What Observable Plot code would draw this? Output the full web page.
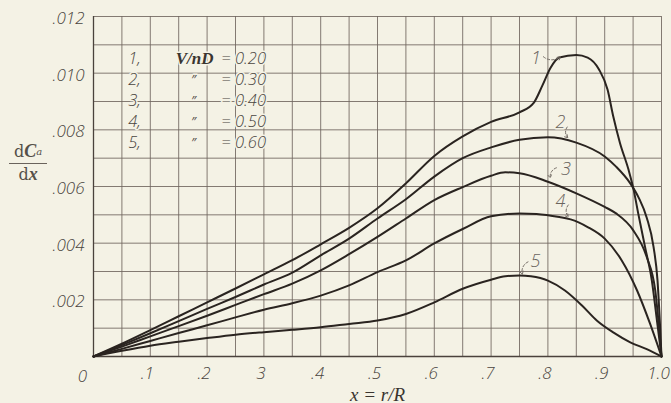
<!DOCTYPE html>
<html>
<head>
<meta charset="utf-8">
<script src="https://cdn.jsdelivr.net/npm/d3@7"></script>
<script src="https://cdn.jsdelivr.net/npm/@observablehq/plot@0.6"></script>
<style>
  html, body { margin: 0; padding: 0; background: #f4f2e5; }
  #wrap { position: relative; width: 671px; height: 403px; background: #f4f2e5; overflow: hidden; }
  #wrap svg { position: absolute; left: 0; top: 0; }
  .ylab { position: absolute; left: 9px; top: 141px; width: 38px; color: #555049; font-family: "DejaVu Serif", serif; text-align: center; }
  .ylab .num { font-size: 16px; line-height: 20px; border-bottom: 1.3px solid #6a635c; padding-bottom: 1px; white-space: nowrap; }
  .ylab .num b { font-style: italic; font-family: "Liberation Serif", serif; font-size: 18px; }
  .ylab .num sub { font-size: 10px; vertical-align: 2px; font-style: italic; }
  .ylab .den { font-size: 16px; line-height: 20px; white-space: nowrap; }
  .ylab .den i { font-family: "Liberation Serif", serif; font-weight: bold; font-size: 18px; }
</style>
</head>
<body>
<div id="wrap">
  <div class="ylab"><div class="num">d<b>C</b><sub>a</sub></div><div class="den">d<i>x</i></div></div>
</div>
<script>
// ---- data ----
const x1 = [0, .05, .1, .15, .2, .25, .3, .35, .4, .45, .5, .55, .6, .65, .7, .75, .775, .79, .805, .82, .85, .87, .89, .905, .915, .927, .942, .951, .959, .971, .983, .992, 1];
const y1 = [0, .00045, .00093, .00142, .00191, .0024, .0029, .0034, .00396, .00454, .00523, .00611, .00708, .00777, .00828, .00862, .00895, .00955, .0102, .01055, .01064, .01055, .01013, .00942, .00848, .00753, .00659, .00588, .00505, .00387, .00268, .00127, 0];

const x2 = [0, .05, .1, .15, .2, .25, .3, .35, .4, .45, .5, .55, .6, .65, .7, .75, .8, .85, .9, .92, .945, .96, .974, .986, .993, .997, 1];
const y2 = [0, .0004, .00082, .00125, .00168, .0021, .00254, .00296, .00357, .00416, .00487, .00555, .00635, .007, .00738, .00765, .00774, .00755, .00706, .0067, .00611, .0056, .0049, .00387, .00268, .00127, 0];

const x3 = [0, .05, .1, .15, .2, .25, .3, .35, .4, .45, .5, .55, .6, .65, .7, .725, .75, .8, .85, .9, .92, .95, .974, .989, 1];
const y3 = [0, .00035, .00071, .00107, .00144, .00182, .0022, .00257, .00304, .00361, .00422, .00487, .00552, .00598, .00638, .0065, .00647, .00617, .00576, .00528, .00505, .00446, .00351, .00233, 0];

const x4 = [0, .05, .1, .15, .2, .25, .3, .35, .4, .45, .5, .55, .6, .65, .7, .75, .78, .82, .84, .87, .9, .93, .957, .98, 1];
const y4 = [0, .00027, .00055, .00083, .0011, .00138, .00165, .00188, .00215, .00251, .00298, .00339, .00399, .0045, .00495, .00505, .00503, .00492, .00484, .00457, .00416, .00339, .00233, .00115, 0];

const x5 = [0, .05, .1, .15, .2, .25, .3, .35, .4, .45, .5, .55, .6, .65, .7, .725, .75, .77, .8, .83, .86, .886, .915, .945, .974, 1];
const y5 = [0, .0002, .00038, .00052, .00065, .00077, .00086, .00094, .00103, .00115, .00127, .0015, .00191, .00239, .00271, .00283, .00286, .00283, .00268, .00233, .0018, .00127, .00085, .0005, .00026, 0];

const seriesNames = ["1", "2", "3", "4", "5"];

// axis ticks and labels
const xTicks = [.1, .2, .3, .4, .5, .6, .7, .8, .9, 1];
const xTickLabels = [".1", ".2", "3", ".4", ".5", ".6", ".7", ".8", ".9", "1.0"];
const yTicks = [.002, .004, .006, .008, .010, .012];
const yTickLabels = [".002", ".004", ".006", ".008", ".010", ".012"];
const xGrid = d3.range(0, 21).map(i => i / 20);
const yGrid = d3.range(0, 13).map(i => i / 1000);

// legend (key) inside the plot
const keyNum = ["1,", "2,", "3,", "4,", "5,"];
const keyMid = ["", "\u2033", "\u2033", "\u2033", "\u2033"];
const keyVal = ["= 0.20", "= 0.30", "= 0.40", "= 0.50", "= 0.60"];
const keyY = [.01050, .00976, .00902, .00828, .00754];

// curve labels with dashed leaders
const labText = ["1", "2", "3", "4", "5"];
const labX = [.779, .822, .832, .822, .778];
const labY = [.01053, .00828, .00662, .00548, .00336];
const ldrX1 = [.792, .834, .815, .836, .765];
const ldrY1 = [.01058, .0081, .00666, .00535, .00334];
const ldrX2 = [.822, .835, .804, .836, .755];
const ldrY2 = [.01058, .00772, .0063, .00492, .0029];

// ---- build tables ----
const curves = [[x1, y1], [x2, y2], [x3, y3], [x4, y4], [x5, y5]];
const table = curves.flatMap(([xs, ys], k) => xs.map((x, i) => ({series: seriesNames[k], x, y: ys[i]})));
const keyRows = keyNum.map((n, i) => ({n, m: keyMid[i], v: keyVal[i], y: keyY[i]}));
const labRows = labText.map((t, i) => ({t, x: labX[i], y: labY[i], x1: ldrX1[i], y1: ldrY1[i], x2: ldrX2[i], y2: ldrY2[i]}));
const xLab = new Map(xTicks.map((d, i) => [d, xTickLabels[i]]));
const yLab = new Map(yTicks.map((d, i) => [d, yTickLabels[i]]));

const paper = "#f4f2e5";
const gridColor = "#6e655e";
const ink = "#2a2420";
const textInk = "#4a4540";
const tickFont = "'Open Sans', 'DejaVu Sans', sans-serif";

const chart = Plot.plot({
  width: 671,
  height: 403,
  marginLeft: 93,
  marginRight: 10,
  marginTop: 16,
  marginBottom: 47,
  x: {domain: [0, 1]},
  y: {domain: [0, 0.012]},
  style: {background: "transparent", fontFamily: tickFont, color: textInk},
  marks: [
    Plot.ruleX(xGrid, {stroke: gridColor, strokeWidth: 1, strokeOpacity: 0.85}),
    Plot.ruleY(yGrid, {stroke: gridColor, strokeWidth: 1, strokeOpacity: 0.85}),
    Plot.ruleX([0], {stroke: "#4a423c", strokeWidth: 1.3}),
    Plot.ruleY([0], {stroke: "#4a423c", strokeWidth: 1.3}),
    Plot.axisX(xTicks, {tickSize: 0, tickPadding: 10, tickFormat: d => xLab.get(d), fontSize: 17, fontStyle: "italic", fontWeight: 300, dx: -3, label: null}),
    Plot.axisY(yTicks, {tickSize: 0, tickPadding: 9, tickFormat: d => yLab.get(d), fontSize: 17, fontStyle: "italic", fontWeight: 300, dy: 2, label: null}),
    Plot.text(["0"], {x: 0, y: 0, dx: -11, dy: 20, fontSize: 17, fontStyle: "italic", fontWeight: 300, fill: textInk}),
    Plot.text(["x = r/R"], {frameAnchor: "bottom", dy: 44, fontSize: 19, fontStyle: "italic", fontFamily: "'Liberation Serif', serif", fill: "#3a3530"}),
    Plot.line(table, {x: "x", y: "y", z: "series", curve: "monotone-x", stroke: ink, strokeWidth: 2}),
    // key
    Plot.text(keyRows, {x: 0.061, y: "y", text: "n", textAnchor: "start", fontSize: 16.5, fontStyle: "italic", fontWeight: 300, fill: textInk, stroke: paper, strokeWidth: 3, paintOrder: "stroke"}),
    Plot.text(keyRows, {x: 0.176, y: "y", text: "m", fontSize: 13, fontStyle: "italic", fill: textInk, stroke: paper, strokeWidth: 3, paintOrder: "stroke"}),
    Plot.text(["V/nD"], {x: 0.178, y: keyY[0], fontSize: 17, fontStyle: "italic", fontWeight: "bold", fontFamily: "'Liberation Serif', serif", fill: "#3a3530", stroke: paper, strokeWidth: 3, paintOrder: "stroke"}),
    Plot.text(keyRows, {x: 0.225, y: "y", text: "v", textAnchor: "start", fontSize: 16.5, fontStyle: "italic", fontWeight: 300, fill: textInk, stroke: paper, strokeWidth: 3, paintOrder: "stroke"}),
    // curve labels
    Plot.arrow(labRows, {x1: "x1", y1: "y1", x2: "x2", y2: "y2", bend: -40, stroke: "#777069", strokeWidth: 1, strokeDasharray: "2.5,2", headLength: 5}),
    Plot.text(labRows, {x: "x", y: "y", text: "t", fontSize: 18, fontStyle: "italic", fontWeight: 300, fill: "#6a645e", stroke: paper, strokeWidth: 3, paintOrder: "stroke"})
  ]
});
document.getElementById("wrap").prepend(chart);
</script>
</body>
</html>
